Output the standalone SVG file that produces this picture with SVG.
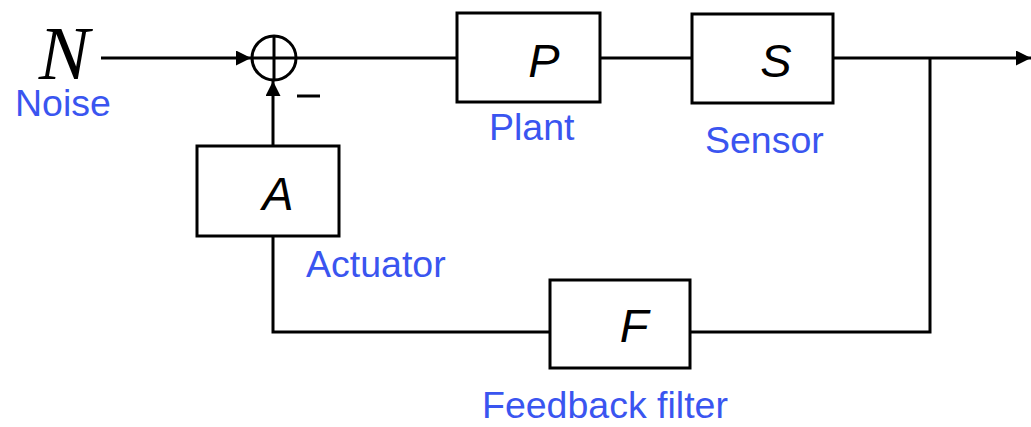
<svg xmlns="http://www.w3.org/2000/svg" width="1031" height="427" viewBox="0 0 1031 427">
<style>
.box{fill:#fff;stroke:#000;stroke-width:3}
.ln{fill:none;stroke:#000;stroke-width:3}
.sym{font-family:"Liberation Sans",Arial,sans-serif;font-style:italic;font-size:47px;fill:#000;text-anchor:middle}
.lbl{font-family:"Liberation Sans",Arial,sans-serif;font-size:37.5px;fill:#3a55f0}
</style>
<defs>
<marker id="ah" viewBox="0 0 10 10" refX="10" refY="5" markerWidth="6" markerHeight="5" markerUnits="strokeWidth" orient="auto">
<path d="M0,0 L10,5 L0,10 z" fill="#000"/>
</marker>
</defs>
<g id="connectors">
<line class="ln" x1="101" y1="58" x2="251" y2="58" marker-end="url(#ah)"/>
<line class="ln" x1="297" y1="58" x2="457" y2="58"/>
<line class="ln" x1="600" y1="58" x2="692" y2="58"/>
<line class="ln" x1="833" y1="58" x2="1031" y2="58" marker-end="url(#ah)"/>
<polyline class="ln" points="930,58 930,332 690,332"/>
<polyline class="ln" points="550,332 273,332 273,236"/>
<line class="ln" x1="273" y1="146" x2="273" y2="81" marker-end="url(#ah)"/>
</g>
<g id="noise">
<text x="64" y="79" font-family="'Liberation Serif','Times New Roman',serif" font-style="italic" font-size="76" text-anchor="middle">N</text>
<text class="lbl" x="15" y="116">Noise</text>
</g>
<g id="sum">
<circle cx="274" cy="58" r="22" fill="#fff" stroke="#000" stroke-width="3"/>
<line class="ln" x1="252" y1="58" x2="296" y2="58"/>
<line class="ln" x1="274" y1="36" x2="274" y2="80"/>
<line class="ln" x1="297" y1="96" x2="320" y2="96"/>
</g>
<g id="plant">
<rect class="box" x="457" y="13" width="143" height="89"/>
<text class="sym" x="544" y="77">P</text>
<text class="lbl" x="489" y="140">Plant</text>
</g>
<g id="sensor">
<rect class="box" x="692" y="14" width="141" height="89"/>
<text class="sym" x="776" y="77">S</text>
<text class="lbl" x="705" y="153">Sensor</text>
</g>
<g id="actuator">
<rect class="box" x="197" y="146" width="142" height="90"/>
<text class="sym" x="278" y="210">A</text>
<text class="lbl" x="306" y="277">Actuator</text>
</g>
<g id="filter">
<rect class="box" x="550" y="280" width="140" height="88"/>
<text class="sym" x="634" y="342">F</text>
<text class="lbl" x="482" y="418">Feedback filter</text>
</g>
</svg>
